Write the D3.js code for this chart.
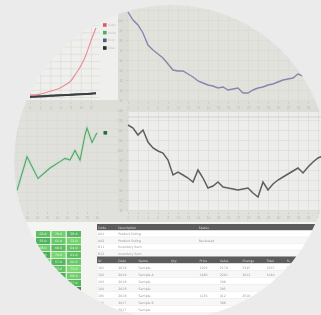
<!DOCTYPE html>
<html lang="en">
<head>
<meta charset="UTF-8" />
<title>Dashboard</title>
<script src="https://cdn.jsdelivr.net/npm/d3@7"></script>
<style>
  body { margin: 0; background: #ebebeb; }
  svg { display: block; font-family: "DejaVu Sans", sans-serif; }
  .grid line { stroke: #d8d8d3; stroke-width: 0.6; }
  .grid path { display: none; }
  .ax path { display: none; }
  .ax line { stroke: #c2c2bd; stroke-width: 0.6; }
  .ax text { fill: #b8b8b4; font-size: 3.2px; }
  .cell text { fill: #e9f7ea; font-size: 3.2px; }
  .tbl text { font-size: 3.2px; }
</style>
</head>
<body>
<svg id="chart" width="321" height="315"></svg>
<script>
// ---- data ----
// top left: growth chart
const growthSteps = [0, 1, 2, 3, 4, 5, 6, 7, 8, 9, 10, 11, 12, 13];
const growthRed   = [3, 3, 4, 6, 8, 10, 13, 17, 22, 32, 43, 58, 78, 96];
const growthGreen = [1, 1, 1.5, 2, 2, 2.5, 3, 3, 3.5, 4, 4.2, 4.5, 5, 5.5];
const growthBlue  = [0.5, 0.8, 1, 1.4, 1.8, 2, 2.4, 2.8, 3, 3.4, 3.8, 4.2, 4.6, 5];
const growthDark  = [0, 0.4, 0.8, 1.2, 1.6, 2, 2.3, 2.7, 3, 3.4, 3.8, 4.2, 4.6, 5.2];
const legendNames = ["Sales", "Units", "Cost", "Total"];

// top right: series A (daily)
const seriesA = [108, 100, 95, 87, 75, 70, 66, 62, 56, 50, 49, 49, 46, 43, 39, 37, 35, 34, 32, 33,
                 30, 31, 32, 27, 27, 30, 32, 33, 35, 36, 38, 40, 41, 42, 46, 44, 47, 49];

// middle left: green series (irregular days)
const greenDays = [0, 10, 21, 33, 43, 48, 53, 58, 63, 68, 70, 75, 80];
const greenVals = [12, 54, 27, 40, 48, 52, 50, 62, 50, 81, 90, 72, 84];

// middle right: series B (daily)
const seriesB = [125, 122, 115, 120, 108, 102, 99, 97, 90, 75, 78, 75, 72, 68, 80, 72, 62, 64, 68, 63,
                 62, 61, 60, 61, 62, 57, 53, 68, 60, 66, 70, 73, 76, 79, 82, 77, 83, 88, 92, 94];

// bottom left: heat table
const heatCols = ["Q1", "Q2", "Q3"];
const heatRows = ["r1", "r2", "r3", "r4", "r5", "r6", "r7", "r8", "r9"];
const heatVals = [
  [62, 70, 58], [55, 66, 72], [68, 60, 64], [52, 74, 61], [71, 57, 66],
  [59, 63, 75], [66, 54, 69], [48, 61, 57], [44, 52, 38]
];

// bottom right: tables
const topHeader = ["Code", "Description", "", "Status"];
const topRows = [
  ["A01", "Product listing", "", ""],
  ["A02", "Product listing", "", "Reviewed"],
  ["B11", "Inventory item", "", ""],
  ["B12", "Inventory item", "", ""]
];
const botHeader = ["ID", "Date", "Name", "Qty", "Price", "Value", "Change", "Total", "%"];
const botRows = [
  ["101", "2019", "Sample", "", "1205", "2178", "3345", "1567", "12"],
  ["102", "2019", "Sample A", "", "1480", "2291", "3012", "1640", "9"],
  ["103", "2018", "Sample", "", "", "308", "", "", ""],
  ["104", "2018", "Sample", "", "", "295", "", "", ""],
  ["105", "2018", "Sample", "", "1136", "412", "2510", "", ""],
  ["106", "2017", "Sample B", "", "", "388", "", "", ""],
  ["107", "2017", "Sample", "", "", "", "", "", ""]
];

// ---- drawing ----
const svg = d3.select("#chart");
svg.append("rect").attr("width", 321).attr("height", 315).attr("fill", "#ebebeb");

const defs = svg.append("defs");
defs.append("clipPath").attr("id", "disc")
  .append("circle").attr("cx", 171).attr("cy", 162).attr("r", 157);
defs.append("filter").attr("id", "soft")
  .append("feGaussianBlur").attr("stdDeviation", 0.45);

const g = svg.append("g").attr("clip-path", "url(#disc)")
  .append("g").attr("filter", "url(#soft)");

// panel backgrounds
function panel(x, y, w, h, fill) {
  g.append("rect").attr("x", x).attr("y", y).attr("width", w).attr("height", h).attr("fill", fill);
}
panel(0, 0, 118, 100, "#efefed");
panel(128, 0, 193, 100, "#e2e2dd");
panel(118, 0, 10, 222, "#dcdcd7");
panel(0, 100, 321, 12, "#dedeD9");
panel(0, 112, 118, 98, "#e0e0dc");
panel(128, 112, 193, 98, "#ededeb");
panel(0, 210, 321, 12, "#e0e0dc");
panel(0, 222, 321, 93, "#f4f4f3");

function grid(xs, ys, x0, y0, x1, y1, nx, ny) {
  g.append("g").attr("class", "grid").attr("transform", `translate(0,${y1})`)
    .call(d3.axisBottom(xs).ticks(nx).tickSize(-(y1 - y0)).tickFormat(""));
  g.append("g").attr("class", "grid").attr("transform", `translate(${x0},0)`)
    .call(d3.axisLeft(ys).ticks(ny).tickSize(-(x1 - x0)).tickFormat(""));
}

// ---- top left: growth ----
const xA = d3.scaleLinear().domain([0, 13]).range([30, 96]);
const yA = d3.scaleLinear().domain([0, 100]).range([97, 25]);
grid(xA, yA, 22, 10, 100, 100, 8, 8);
g.append("g").attr("class", "ax").attr("transform", "translate(0,102)")
  .call(d3.axisBottom(xA).ticks(8).tickSize(2));

const lineA = d3.line().x((d, i) => xA(growthSteps[i])).y(d => yA(d)).curve(d3.curveMonotoneX);
const growthSeries = [
  { vals: growthGreen, color: "#6aa873", w: 1.4 },
  { vals: growthBlue, color: "#6a7688", w: 1.6 },
  { vals: growthDark, color: "#3e3e42", w: 2 },
  { vals: growthRed, color: "#ec8a92", w: 1.1 }
];
growthSeries.forEach(s => {
  g.append("path").datum(s.vals).attr("d", lineA)
    .attr("fill", "none").attr("stroke", s.color).attr("stroke-width", s.w);
});

const legendColors = ["#e2566a", "#56a862", "#4c5c74", "#2a2a35"];
const legY = d3.scalePoint().domain(legendNames).range([25, 48]);
legendNames.forEach((n, i) => {
  g.append("rect").attr("x", 103).attr("y", legY(n) - 1.8).attr("width", 3.6).attr("height", 3.6)
    .attr("fill", legendColors[i]);
  g.append("text").attr("x", 108).attr("y", legY(n) + 1.1).text(n)
    .style("font-size", "3px").attr("fill", "#c0c0bd");
});

// ---- top right: series A ----
const xB = d3.scaleLinear().domain([0, 37]).range([128, 313]);
const yB = d3.scaleLinear().domain([20, 120]).range([100, 0]);
grid(xB, yB, 128, 0, 321, 100, 14, 10);
g.append("g").attr("class", "ax").attr("transform", "translate(0,102)")
  .call(d3.axisBottom(xB).ticks(14).tickSize(2));
g.append("g").attr("class", "ax").attr("transform", "translate(128,0)")
  .call(d3.axisLeft(yB).ticks(10).tickSize(2));
g.append("path").datum(seriesA)
  .attr("d", d3.line().x((d, i) => xB(i)).y(d => yB(d)))
  .attr("fill", "none").attr("stroke", "#8886ad").attr("stroke-width", 1.4);

// ---- middle left: green ----
const xC = d3.scaleLinear().domain([0, 80]).range([17, 97]);
const yC = d3.scaleLinear().domain([0, 100]).range([200, 120]);
grid(xC, yC, 0, 112, 118, 210, 10, 8);
g.append("g").attr("class", "ax").attr("transform", "translate(0,212)")
  .call(d3.axisBottom(xC).ticks(8).tickSize(2));
const lineC = d3.line().x((d, i) => xC(greenDays[i])).y(d => yC(d));
g.append("path").datum(greenVals).attr("d", lineC)
  .attr("fill", "none").attr("stroke", "#c4e4cb").attr("stroke-width", 3);
g.append("path").datum(greenVals).attr("d", lineC)
  .attr("fill", "none").attr("stroke", "#5f9f6c").attr("stroke-width", 1.1);
g.append("rect").attr("x", 103.5).attr("y", yC(84) - 1.8).attr("width", 3.6).attr("height", 3.6)
  .attr("fill", "#2d6a3a");

// ---- middle right: series B ----
const xD = d3.scaleLinear().domain([0, 39]).range([128, 323]);
const yD = d3.scaleLinear().domain([40, 140]).range([210, 110]);
grid(xD, yD, 128, 112, 321, 210, 14, 10);
g.append("g").attr("class", "ax").attr("transform", "translate(0,212)")
  .call(d3.axisBottom(xD).ticks(14).tickSize(2));
g.append("g").attr("class", "ax").attr("transform", "translate(128,0)")
  .call(d3.axisLeft(yD).ticks(10).tickSize(2));
g.append("line").attr("x1", 128).attr("x2", 321).attr("y1", 117).attr("y2", 117)
  .attr("stroke", "#cdcdc9").attr("stroke-width", 0.8);
g.append("path").datum(seriesB)
  .attr("d", d3.line().x((d, i) => xD(i)).y(d => yD(d)))
  .attr("fill", "none").attr("stroke", "#5e5e5e").attr("stroke-width", 1.5);

// ---- bottom left: heat table ----
const xH = d3.scaleBand().domain(heatCols).range([36, 81]).paddingInner(0.08);
const yH = d3.scaleBand().domain(heatRows).range([231, 293]).paddingInner(0.12);
const heatColor = d3.scaleLinear().domain([38, 56, 75]).range(["#3a9150", "#52b55c", "#7ed974"]);
heatRows.forEach((r, ri) => {
  heatCols.forEach((c, ci) => {
    const cell = g.append("g").attr("class", "cell");
    cell.append("rect").attr("x", xH(c)).attr("y", yH(r))
      .attr("width", xH.bandwidth()).attr("height", yH.bandwidth())
      .attr("fill", heatColor(heatVals[ri][ci]));
    cell.append("text").attr("x", xH(c) + xH.bandwidth() / 2).attr("y", yH(r) + yH.bandwidth() / 2 + 1.1)
      .attr("text-anchor", "middle").text(heatVals[ri][ci] + ".0");
  });
});

// ---- bottom right: data tables ----
function table(header, rows, x0, x1, y0, rowH, colFracs) {
  const t = g.append("g").attr("class", "tbl");
  const cx = colFracs.map(f => x0 + f * (x1 - x0));
  t.append("rect").attr("x", x0).attr("y", y0).attr("width", x1 - x0).attr("height", rowH)
    .attr("fill", "#5c5c5c");
  header.forEach((h, i) => t.append("text").attr("x", cx[i] + 1).attr("y", y0 + rowH - 2)
    .attr("fill", "#d8d8d8").text(h));
  rows.forEach((r, ri) => {
    const y = y0 + rowH * (ri + 1);
    t.append("rect").attr("x", x0).attr("y", y).attr("width", x1 - x0).attr("height", rowH)
      .attr("fill", ri % 2 ? "#f7f7f7" : "#ffffff").attr("stroke", "#e8e8e8").attr("stroke-width", 0.4);
    r.forEach((v, i) => t.append("text").attr("x", cx[i] + 1).attr("y", y + rowH - 2)
      .attr("fill", "#9a9a9a").text(v));
  });
}
table(topHeader, topRows, 97, 321, 224, 6.5, [0, 0.09, 0.3, 0.45]);
table(botHeader, botRows, 97, 300, 256.5, 7, [0, 0.1, 0.2, 0.36, 0.5, 0.6, 0.71, 0.83, 0.93]);
</script>
</body>
</html>
